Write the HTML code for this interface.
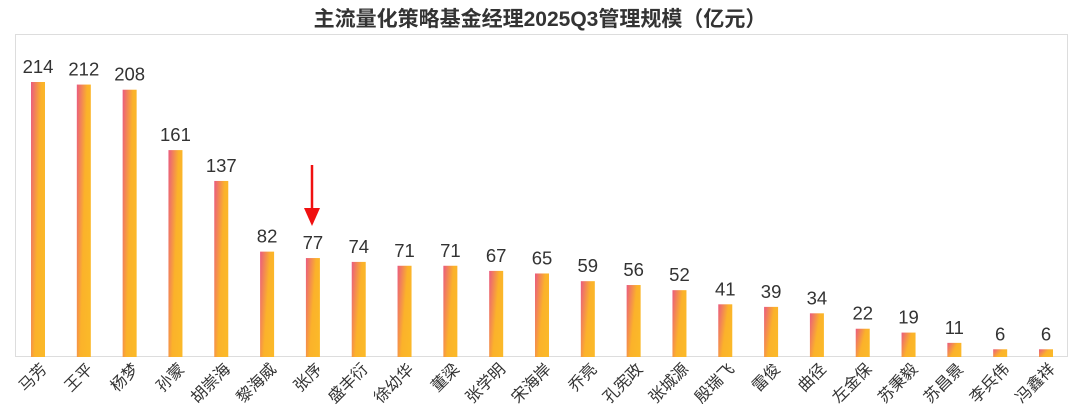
<!DOCTYPE html>
<html><head><meta charset="utf-8"><style>
body{margin:0;background:#fff;}
svg{display:block;font-family:"Liberation Sans","Noto Sans CJK SC",sans-serif;}
</style></head><body>
<svg id="c" width="1080" height="417">
<defs><linearGradient id="g" x1="0" y1="0" x2="1" y2="0.5">
<stop offset="0" stop-color="#ea5a80"/><stop offset="0.6" stop-color="#fbb22a"/><stop offset="1" stop-color="#fbb829"/></linearGradient></defs>
<text x="540" y="26" text-anchor="middle" font-size="21" font-weight="bold" fill="#333">主流量化策略基金经理2025Q3管理规模（亿元）</text>
<rect x="15.5" y="34.5" width="1052" height="322" fill="none" stroke="#ddd"/>
<g id="bars"></g>
<g><line x1="312" y1="165" x2="312" y2="212" stroke="#f01010" stroke-width="2.5"/><polygon points="304,208 320,208 312,226" fill="#f01010"/></g>
</svg>
<script>
const categories=["马芳","王平","杨梦","孙蒙","胡崇海","黎海威","张序","盛丰衍","徐幼华","董梁","张学明","宋海岸","乔亮","孔宪政","张城源","殷瑞飞","雷俊","曲径","左金保","苏秉毅","苏昌景","李兵伟","冯鑫祥"];
const values=[214,212,208,161,137,82,77,74,71,71,67,65,59,56,52,41,39,34,22,19,11,6,6];
const ns="http://www.w3.org/2000/svg";
const g=document.getElementById('bars');
const x0=38,step=(1046-38)/22,base=357,k=(357-82)/214;
const xs=i=>x0+i*step, ys=v=>base-v*k;
categories.forEach((c,i)=>{
 const x=xs(i),y=ys(values[i]);
 const r=document.createElementNS(ns,'rect');
 r.setAttribute('x',x-7);r.setAttribute('y',y);r.setAttribute('width',14);r.setAttribute('height',base-y);r.setAttribute('fill','url(#g)');
 
 
 g.appendChild(r);
 const t=document.createElementNS(ns,'text');
 t.setAttribute('x',x);t.setAttribute('y',y-9);t.setAttribute('text-anchor','middle');t.setAttribute('font-size','18.5');t.setAttribute('fill','#333');
 t.textContent=values[i];
 
 
 g.appendChild(t);
 const l=document.createElementNS(ns,'text');
 l.setAttribute('transform',`translate(${x+10},${370}) rotate(-45)`);l.setAttribute('text-anchor','end');l.setAttribute('font-size','16');l.setAttribute('fill','#333');
 l.textContent=c;
 
 
 g.appendChild(l);
});
</script>
</body></html>
